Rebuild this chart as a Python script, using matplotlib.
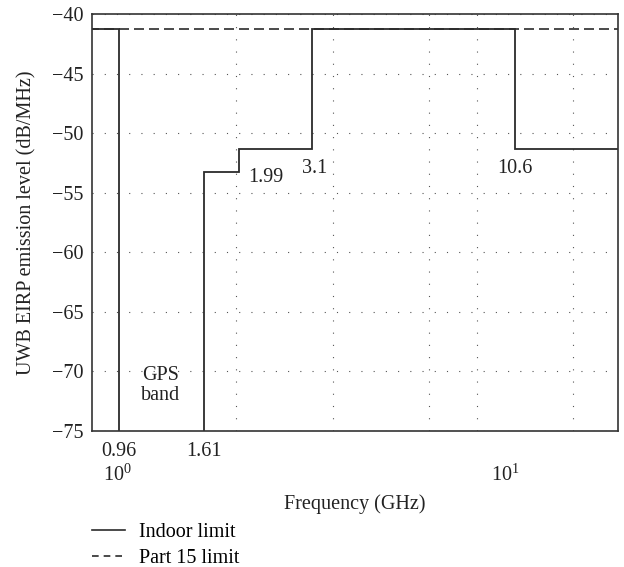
import matplotlib
matplotlib.use("Agg")
import matplotlib.pyplot as plt
import matplotlib.transforms as mtransforms
from matplotlib.lines import Line2D

plt.rcParams['font.family'] = ['Liberation Serif', 'DejaVu Serif']
plt.rcParams['mathtext.fontset'] = 'custom'
plt.rcParams['mathtext.rm'] = 'Liberation Serif'
plt.rcParams['axes.unicode_minus'] = True

# ---- data ----
edge_freqs = [0.8, 0.96, 1.61, 1.99, 3.1, 10.6, 20.0]        # GHz
indoor_levels = [-41.3, -75.3, -53.3, -51.3, -41.3, -51.3]   # dB/MHz
part15_freqs = [0.8, 20.0]
part15_levels = [-41.3, -41.3]
yticks = [-40, -45, -50, -55, -60, -65, -70, -75]
xtick_vals = [0.96, 1.61]
xtick_labels = ['0.96', '1.61']
decade_vals = [0.953, 10.0]
decade_labels = ['10$^0$', '10$^1$']
grid_freqs = [1.958, 3.52, 6.32, 8.42, 15.12]
annot_text = ['1.99', '3.1', '10.6', 'GPS\nband']
annot_x = [2.35, 3.14, 10.62, 1.235]
annot_y = [-53.7, -53.0, -53.0, -71.2]

FS = 14.5
TC = '#222222'

fig = plt.figure(figsize=(6.24, 5.67), dpi=100)
ax = fig.add_axes([0.147, 0.2404, 0.843, 0.7349])

ax.set_xscale('log')
ax.set_xlim(0.815, 19.8)
ax.set_ylim(-75, -40)

lc = '#2b2b2b'
ax.stairs(indoor_levels, edge_freqs, color=lc, lw=1.3, baseline=None)
ax.plot(part15_freqs, part15_levels, color=lc, lw=1.2, ls=(0, (6, 3)))

# grid
dot = (0, (1, 10))
for y in yticks:
    ax.axhline(y, color='#555555', lw=0.8, ls=dot, zorder=0)
for f in grid_freqs:
    ax.axvline(f, color='#555555', lw=0.8, ls=dot, zorder=0)

ax.set_yticks(yticks)
ax.set_xticks(xtick_vals)
ax.set_xticklabels(xtick_labels)
ax.xaxis.set_minor_locator(matplotlib.ticker.NullLocator())
ax.tick_params(axis='both', length=0, labelsize=FS, colors=TC, pad=6)
ax.tick_params(axis='x', pad=8)

trans = mtransforms.blended_transform_factory(ax.transData, ax.transAxes)
for v, lab in zip(decade_vals, decade_labels):
    ax.text(v, -0.105, lab, transform=trans, ha='center', va='center', fontsize=FS, color=TC)

for t, x, y in zip(annot_text, annot_x, annot_y):
    ax.text(x, y, t, ha='center', va='center', fontsize=FS, color=TC, linespacing=1.1)

for s in ax.spines.values():
    s.set_color('#333333')
    s.set_linewidth(1.2)

ax.set_xlabel('Frequency (GHz)', fontsize=FS, color=TC, labelpad=24)
ax.set_ylabel('UWB EIRP emission level (dB/MHz)', fontsize=FS, color=TC, labelpad=11)

handles = [Line2D([], [], color=lc, lw=1.2), Line2D([], [], color=lc, lw=1.2, ls=(0, (4, 3)))]
fig.legend(handles, ['Indoor limit', 'Part 15 limit'], loc='upper left',
           bbox_to_anchor=(0.147, 0.0785), frameon=False, fontsize=FS,
           borderpad=0, borderaxespad=0, handlelength=1.65, handletextpad=0.7,
           labelspacing=0.35)

fig.savefig('out.png', dpi=100)
